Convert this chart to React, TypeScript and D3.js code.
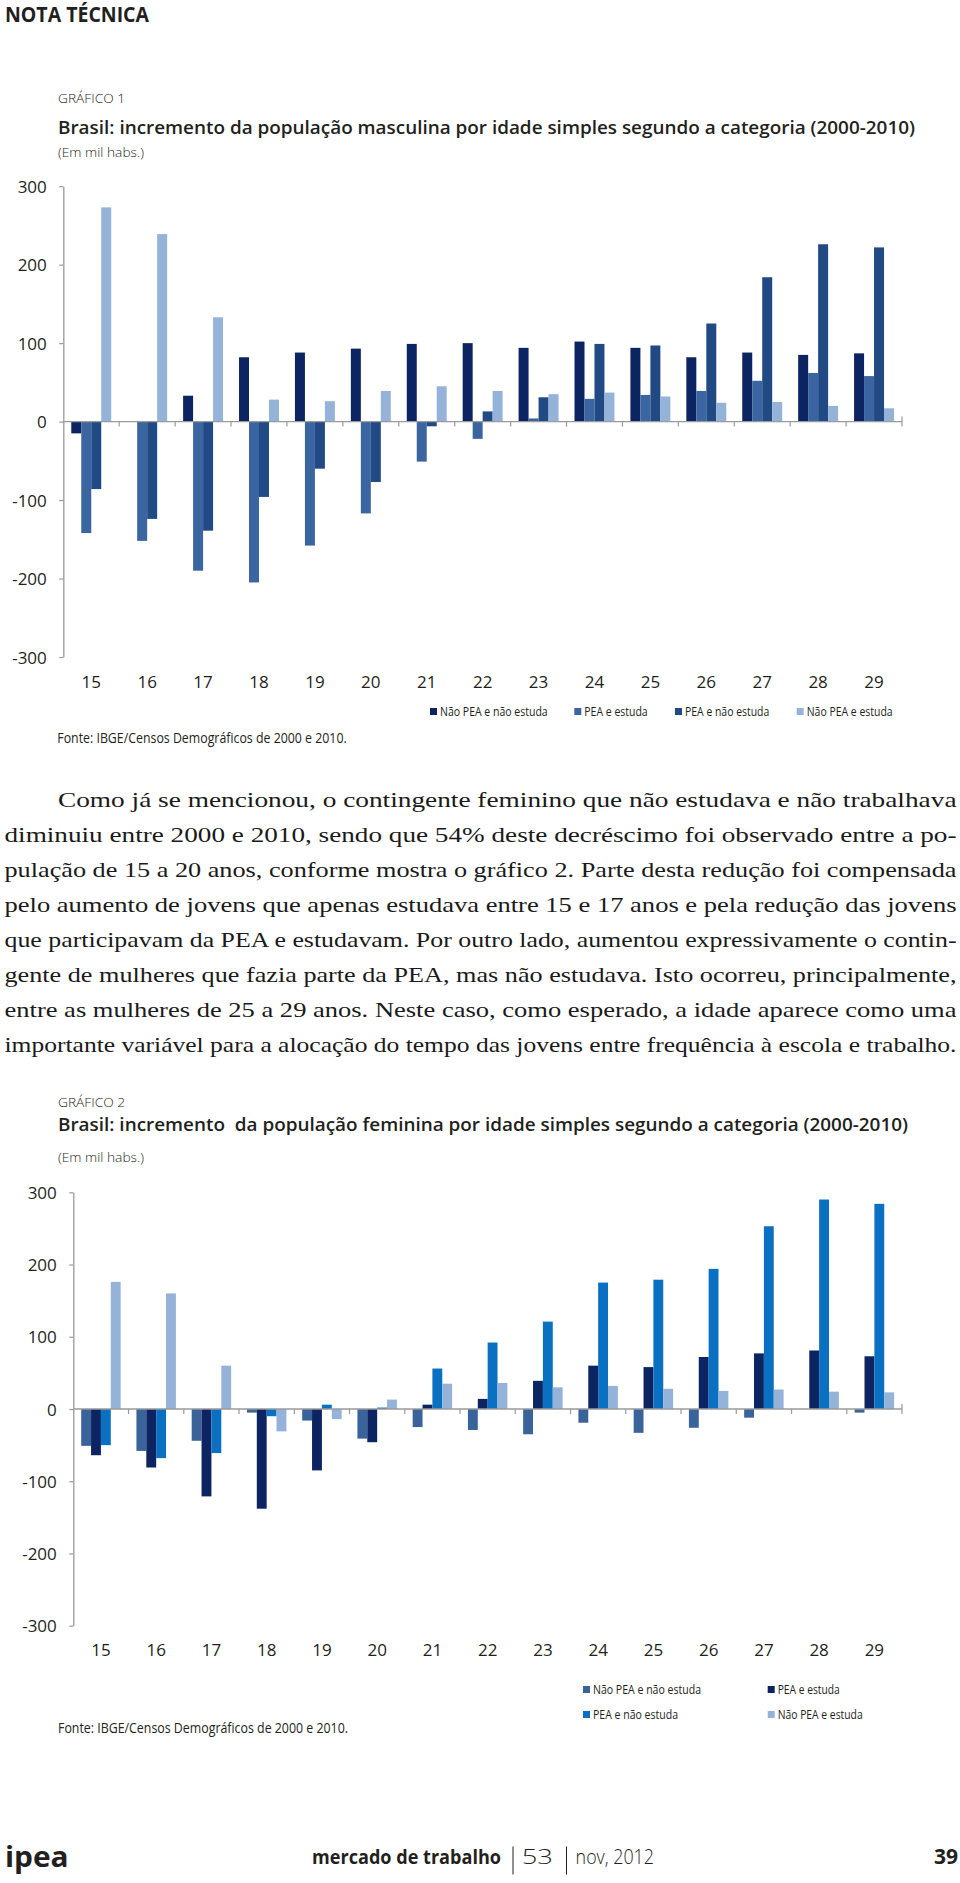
import React, { useEffect, useRef } from 'react';
import * as d3 from 'd3';

const ages = ['15', '16', '17', '18', '19', '20', '21', '22', '23', '24', '25', '26', '27', '28', '29'];
const yTicks = [300, 200, 100, 0, -100, -200, -300];

const seriesNames = ['Não PEA e não estuda', 'PEA e estuda', 'PEA e não estuda', 'Não PEA e estuda'];

// Gráfico 1 - homens (mil habs.)
const maleNaoPeaNaoEstuda = [-15, 0, 33, 82, 88, 93, 99, 100, 94, 102, 94, 82, 88, 85, 87];
const malePeaEstuda = [-142, -152, -190, -205, -158, -117, -51, -22, 4, 29, 34, 39, 52, 62, 58];
const malePeaNaoEstuda = [-86, -124, -139, -96, -60, -77, -6, 13, 31, 99, 97, 125, 184, 226, 222];
const maleNaoPeaEstuda = [273, 239, 133, 28, 26, 39, 45, 39, 35, 37, 32, 24, 25, 20, 17];
const maleColors = ['#0c2461', '#3b65a0', '#214a85', '#95b3d8'];

// Gráfico 2 - mulheres (mil habs.)
const femaleNaoPeaNaoEstuda = [-51, -58, -44, -5, -16, -41, -25, -29, -35, -19, -33, -26, -12, 0, -5];
const femalePeaEstuda = [-64, -81, -121, -138, -85, -46, 6, 14, 39, 60, 58, 72, 77, 81, 73];
const femalePeaNaoEstuda = [-50, -68, -61, -10, 6, 2, 56, 92, 121, 175, 179, 194, 253, 290, 284];
const femaleNaoPeaEstuda = [176, 160, 60, -31, -14, 13, 35, 36, 30, 32, 28, 25, 27, 24, 23];
const femaleColors = ['#3a639c', '#0c2461', '#0a70c2', '#95b3d8'];

const paragraphLines = [
  'Como já se mencionou, o contingente feminino que não estudava e não trabalhava',
  'diminuiu entre 2000 e 2010, sendo que 54% deste decréscimo foi observado entre a po-',
  'pulação de 15 a 20 anos, conforme mostra o gráfico 2. Parte desta redução foi compensada',
  'pelo aumento de jovens que apenas estudava entre 15 e 17 anos e pela redução das jovens',
  'que participavam da PEA e estudavam. Por outro lado, aumentou expressivamente o contin-',
  'gente de mulheres que fazia parte da PEA, mas não estudava. Isto ocorreu, principalmente,',
  'entre as mulheres de 25 a 29 anos. Neste caso, como esperado, a idade aparece como uma',
  'importante variável para a alocação do tempo das jovens entre frequência à escola e trabalho.',
];

const SANS = "'Open Sans', 'Noto Sans', sans-serif";
const SERIF = "'Liberation Serif', 'DejaVu Serif', serif";
const INK = '#231f20';
const AXIS = '#9a9a9a';

type Sel = d3.Selection<SVGGElement, unknown, null, undefined>;

const addText = (
  g: Sel,
  o: { x: number; y: number; text: string; size: number; weight?: number; len?: number; anchor?: string; family?: string; fill?: string }
) => {
  const t = g
    .append('text')
    .attr('x', o.x)
    .attr('y', o.y)
    .attr('font-family', o.family || SANS)
    .attr('font-size', o.size)
    .attr('font-weight', o.weight || 400)
    .attr('fill', o.fill || INK)
    .attr('text-anchor', o.anchor || 'start')
    .text(o.text);
  if (o.len) t.attr('textLength', o.len).attr('lengthAdjust', 'spacingAndGlyphs');
  return t;
};

interface IBarChart {
  x0: number;
  x1: number;
  yTop: number;
  yBottom: number;
  xLabelY: number;
  values: number[][];
  colors: string[];
}

const drawBars = (g: Sel, c: IBarChart) => {
  const x = d3.scaleBand().domain(ages).range([c.x0, c.x1]);
  const xInner = d3
    .scaleBand()
    .domain(seriesNames)
    .range([0, x.bandwidth()])
    .paddingInner(0)
    .paddingOuter(0.8);
  const y = d3.scaleLinear().domain([-300, 300]).range([c.yBottom, c.yTop]);

  seriesNames.forEach((name, i) => {
    g.append('g')
      .selectAll('rect')
      .data(c.values[i])
      .join('rect')
      .attr('x', (_d, j) => (x(ages[j]) || 0) + (xInner(name) || 0))
      .attr('y', (d) => y(Math.max(0, d)))
      .attr('width', xInner.bandwidth())
      .attr('height', (d) => Math.abs(y(d) - y(0)))
      .attr('fill', c.colors[i]);
  });

  // eixo y
  const yAxisG = g.append('g').attr('transform', `translate(${c.x0}, 0)`);
  yAxisG.call(d3.axisLeft(y).tickValues(yTicks).tickSize(4).tickSizeOuter(0).tickPadding(12.5).tickFormat(d3.format('d')));
  yAxisG.select('.domain').attr('stroke', AXIS).attr('stroke-width', 1.3);
  yAxisG.selectAll('.tick line').attr('stroke', AXIS).attr('stroke-width', 1.2);
  yAxisG
    .selectAll('.tick text')
    .attr('font-family', SANS)
    .attr('font-size', 17)
    .attr('fill', INK)
    .attr('dy', '0.36em')
    .text((d: any) => String(d).replace('−', '-'));

  // eixo x (linha no zero)
  const y0 = y(0);
  g.append('line')
    .attr('x1', c.x0)
    .attr('x2', c.x1)
    .attr('y1', y0)
    .attr('y2', y0)
    .attr('stroke', AXIS)
    .attr('stroke-width', 1.3);
  g.append('g')
    .selectAll('line')
    .data(ages.slice(1))
    .join('line')
    .attr('x1', (d) => x(d) || 0)
    .attr('x2', (d) => x(d) || 0)
    .attr('y1', y0)
    .attr('y2', y0 + 5)
    .attr('stroke', AXIS)
    .attr('stroke-width', 1.2);
  g.append('line')
    .attr('x1', c.x1)
    .attr('x2', c.x1)
    .attr('y1', y0 - 5)
    .attr('y2', y0 + 5)
    .attr('stroke', AXIS)
    .attr('stroke-width', 1.2);

  g.append('g')
    .selectAll('text')
    .data(ages)
    .join('text')
    .attr('x', (d) => (x(d) || 0) + x.bandwidth() / 2)
    .attr('y', c.xLabelY)
    .attr('text-anchor', 'middle')
    .attr('font-family', SANS)
    .attr('font-size', 17)
    .attr('fill', INK)
    .text((d) => d);
};

const drawLegend = (g: Sel, items: { x: number; y: number; len: number }[], colors: string[]) => {
  items.forEach((it, i) => {
    g.append('rect')
      .attr('x', it.x - 10)
      .attr('y', it.y - 8)
      .attr('width', 7)
      .attr('height', 7)
      .attr('fill', colors[i]);
    addText(g, { x: it.x, y: it.y, text: seriesNames[i], size: 12.5, len: it.len });
  });
};

const drawPage = (svgEl: SVGSVGElement) => {
  const svg = d3.select(svgEl);
  svg.selectAll('*').remove();
  const g = svg.append('g') as unknown as Sel;

  addText(g, { x: 5, y: 22, text: 'NOTA TÉCNICA', size: 21, weight: 700, len: 144 });

  // Gráfico 1
  addText(g, { x: 58, y: 102.7, text: 'GRÁFICO 1', size: 13.5, weight: 300, len: 67 });
  addText(g, {
    x: 58,
    y: 133.5,
    text: 'Brasil: incremento da população masculina por idade simples segundo a categoria (2000-2010)',
    size: 18.5,
    weight: 600,
    len: 857,
  });
  addText(g, { x: 58, y: 156.7, text: '(Em mil habs.)', size: 13, weight: 300, len: 86 });

  drawBars(g, {
    x0: 63.3,
    x1: 902,
    yTop: 186.2,
    yBottom: 657,
    xLabelY: 687.5,
    values: [maleNaoPeaNaoEstuda, malePeaEstuda, malePeaNaoEstuda, maleNaoPeaEstuda],
    colors: maleColors,
  });
  drawLegend(
    g,
    [
      { x: 440, y: 716, len: 107.7 },
      { x: 584.3, y: 716, len: 63.4 },
      { x: 685, y: 716, len: 84.3 },
      { x: 806.7, y: 716, len: 86 },
    ],
    maleColors
  );
  addText(g, { x: 57.3, y: 743.3, text: 'Fonte: IBGE/Censos Demográficos de 2000 e 2010.', size: 14.5, len: 289.4 });

  // texto corrido
  paragraphLines.forEach((line, i) => {
    const first = i === 0;
    const x = first ? 58 : 4.5;
    addText(g, {
      x,
      y: 807 + i * 35,
      text: line,
      size: 21.5,
      family: SERIF,
      len: 956.5 - x,
      fill: '#1a1a1a',
    });
  });

  // Gráfico 2
  addText(g, { x: 58, y: 1106.7, text: 'GRÁFICO 2', size: 13.5, weight: 300, len: 67 });
  addText(g, {
    x: 58,
    y: 1130.5,
    text: 'Brasil: incremento \u00a0da população feminina por idade simples segundo a categoria (2000-2010)',
    size: 18.5,
    weight: 600,
    len: 850,
  });
  addText(g, { x: 58, y: 1161.7, text: '(Em mil habs.)', size: 13, weight: 300, len: 86 });

  drawBars(g, {
    x0: 73.3,
    x1: 902,
    yTop: 1192.3,
    yBottom: 1625.7,
    xLabelY: 1656,
    values: [femaleNaoPeaNaoEstuda, femalePeaEstuda, femalePeaNaoEstuda, femaleNaoPeaEstuda],
    colors: femaleColors,
  });
  drawLegend(
    g,
    [
      { x: 593, y: 1694, len: 108 },
      { x: 777.7, y: 1694, len: 62 },
      { x: 593, y: 1719, len: 85 },
      { x: 777.7, y: 1719, len: 85 },
    ],
    femaleColors
  );
  addText(g, { x: 58, y: 1733.3, text: 'Fonte: IBGE/Censos Demográficos de 2000 e 2010.', size: 14.5, len: 290 });

  // rodapé
  addText(g, { x: 5, y: 1867.3, text: 'ipea', size: 28, weight: 700, len: 63.6 });
  addText(g, { x: 312, y: 1864, text: 'mercado de trabalho', size: 20, weight: 700, len: 189 });
  [513, 566.5].forEach((sx) => {
    g.append('line')
      .attr('x1', sx)
      .attr('x2', sx)
      .attr('y1', 1846.5)
      .attr('y2', 1874.5)
      .attr('stroke', INK)
      .attr('stroke-width', 1);
  });
  addText(g, { x: 521.7, y: 1864, text: '53', size: 20, weight: 300, len: 31.3 });
  addText(g, { x: 575.6, y: 1864, text: 'nov, 2012', size: 20, weight: 300, len: 78.4 });
  addText(g, { x: 958, y: 1864, text: '39', size: 21, weight: 700, anchor: 'end' });
};

const App: React.FC = () => {
  const svgRef = useRef<SVGSVGElement>(null);

  useEffect(() => {
    if (svgRef && svgRef.current) {
      drawPage(svgRef.current);
    }
  }, [svgRef]);

  return (
    <div style={{ position: 'absolute', left: 0, top: 0, width: 960, height: 1883, background: '#fff' }}>
      <svg ref={svgRef} width={960} height={1883} style={{ display: 'block' }}></svg>
    </div>
  );
};

export default App;
